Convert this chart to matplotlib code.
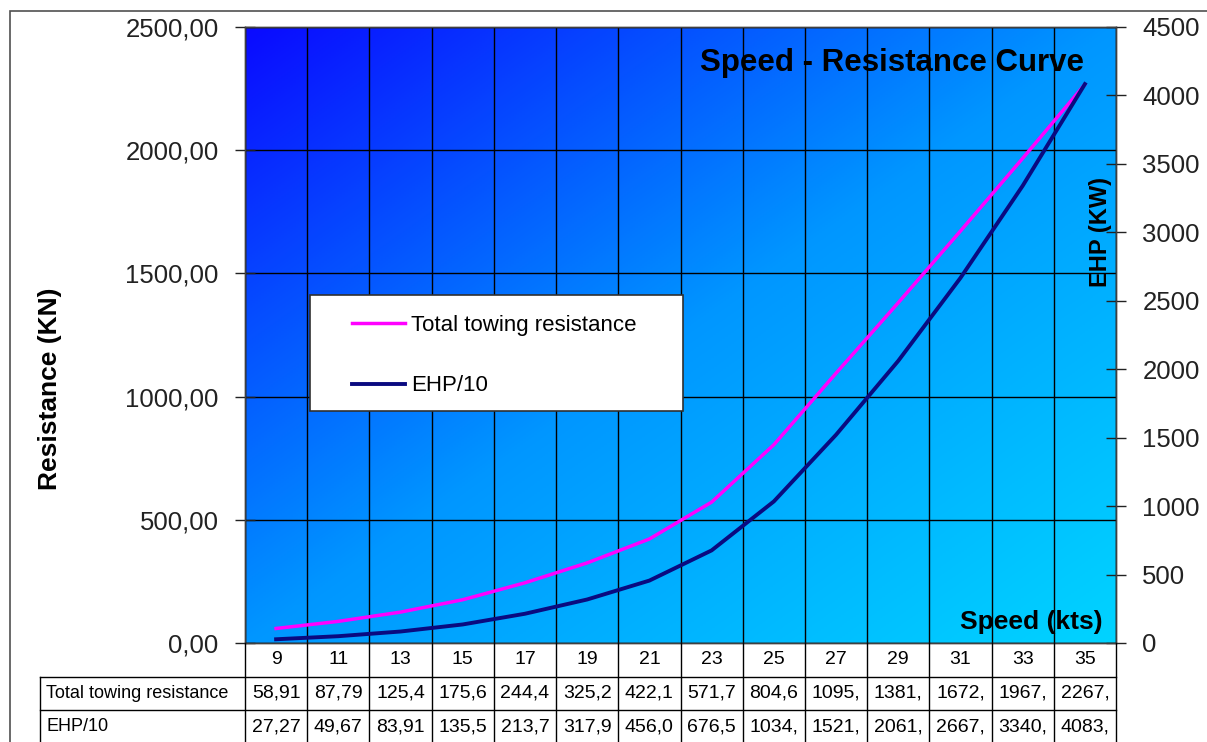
import numpy as np
import matplotlib
matplotlib.use("Agg")
import matplotlib.pyplot as plt
from matplotlib.lines import Line2D
from matplotlib.patches import Rectangle
from matplotlib.colors import LinearSegmentedColormap
from matplotlib.transforms import blended_transform_factory

plt.rcParams['font.family'] = ['Liberation Sans', 'DejaVu Sans']

# ---- data ----
speeds = [9, 11, 13, 15, 17, 19, 21, 23, 25, 27, 29, 31, 33, 35]
total_resistance = [58.91, 87.79, 125.4, 175.6, 244.4, 325.2, 422.1,
                    571.7, 804.6, 1095, 1381, 1672, 1967, 2267]
ehp_div10 = [27.27, 49.67, 83.91, 135.5, 213.7, 317.9, 456.0,
             676.5, 1034, 1521, 2061, 2667, 3340, 4083]
left_ticks = [0, 500, 1000, 1500, 2000, 2500]
right_ticks = [0, 500, 1000, 1500, 2000, 2500, 3000, 3500, 4000, 4500]
series_names = ["Total towing resistance", "EHP/10"]

W, H = 1207, 742
fig = plt.figure(figsize=(W / 100, H / 100), dpi=100)


def fx(px):
    return px / W


def fy(py):
    return 1 - py / H


ax_l, ax_r, ax_t, ax_b = 245, 1116, 27, 643
ax = fig.add_axes([fx(ax_l), fy(ax_b), fx(ax_r - ax_l), (ax_b - ax_t) / H])
ax2 = ax.twinx()

n = len(speeds)
xs = np.arange(n)
ax.set_xlim(-0.5, n - 0.5)
ax.set_ylim(0, 2500)
ax2.set_ylim(0, 4500)

# diagonal blue -> cyan background
cmap = LinearSegmentedColormap.from_list(
    "bg", [(0.0, (0.04, 0.04, 1.0)), (0.5, (0.0, 0.59, 1.0)), (1.0, (0.0, 0.83, 1.0))])
gx, gy = np.meshgrid(np.linspace(0, 1, 300), np.linspace(0, 1, 300))
ax.imshow((gx + gy) / 2, cmap=cmap, extent=(0, 1, 0, 1), transform=ax.transAxes,
          aspect="auto", origin="upper", zorder=0, interpolation="bilinear")

# grid
ax.set_xticks(np.arange(-0.5, n, 1))
ax.set_xticklabels([])
ax.tick_params(axis="x", length=0)
ax.set_yticks(left_ticks)
ax.set_yticklabels([f"{v:.2f}".replace(".", ",") for v in left_ticks], fontsize=18.5)
ax.grid(True, color="black", linewidth=1.0, zorder=1)
ax.set_axisbelow(False)
ax.tick_params(axis="y", direction="inout", length=14, width=1, pad=12, colors="#222222")
ax2.set_yticks(right_ticks)
ax2.set_yticklabels([str(v) for v in right_ticks], fontsize=18.5)
ax2.tick_params(axis="y", direction="inout", length=14, width=1, pad=12, colors="#222222")
for a in (ax, ax2):
    for s in a.spines.values():
        s.set_color("#404040")
        s.set_linewidth(1.0)

l1, = ax.plot(xs, total_resistance, color="#FF00FF", linewidth=2.5, zorder=3)
l2, = ax2.plot(xs, ehp_div10, color="#0A0A80", linewidth=2.8, zorder=3)

# titles and axis names
ax2.text(fx(892), fy(63), "Speed - Resistance Curve", transform=fig.transFigure,
         ha="center", va="center", fontsize=22.5, fontweight="bold", zorder=6)
ax2.text(fx(1031), fy(622), "Speed (kts)", transform=fig.transFigure,
         ha="center", va="center", fontsize=19, fontweight="bold", zorder=6)
ax2.text(fx(1100), fy(232), "EHP (KW)", transform=fig.transFigure, rotation=90,
         ha="center", va="center", fontsize=17, fontweight="bold", zorder=6)
fig.text(fx(50), fy(389), "Resistance (KN)", rotation=90,
         ha="center", va="center", fontsize=19, fontweight="bold")

# legend box
ax2.add_patch(Rectangle((fx(310), fy(411)), fx(683 - 310), (411 - 295) / H,
                        transform=fig.transFigure, facecolor="white",
                        edgecolor="#303030", linewidth=1.2, zorder=7, clip_on=False))
leg = ax2.legend([l1, l2], series_names, loc="upper left",
                 bbox_to_anchor=(fx(352), fy(315)), bbox_transform=fig.transFigure,
                 frameon=False, fontsize=16, handlelength=2.4, handletextpad=0.27,
                 labelspacing=1.77, borderpad=0, borderaxespad=0)
leg.set_zorder(8)

# data table under the plot
tx = blended_transform_factory(ax.transData, fig.transFigure)
row_y = [643, 677, 710, 760]
line_kw = dict(color="black", linewidth=1.0)
for b in np.arange(-0.5, n, 1):
    fig.add_artist(Line2D([b, b], [fy(643), fy(760)], transform=tx, **line_kw))
for yy in row_y[1:3]:
    fig.add_artist(Line2D([fx(40), fx(ax_r)], [fy(yy), fy(yy)], **line_kw))
fig.add_artist(Line2D([fx(40), fx(40)], [fy(677), fy(760)], **line_kw))


def cell_text(v):
    return f"{v:.2f}".replace(".", ",")[:5]


tfs = 14
for i, sp in enumerate(speeds):
    fig.text(i, fy((643 + 677) / 2), str(sp), transform=tx, ha="center", va="center", fontsize=tfs)
    fig.text(i, fy((677 + 710) / 2), cell_text(total_resistance[i]), transform=tx,
             ha="center", va="center", fontsize=tfs)
    fig.text(i, fy((710 + 743) / 2), cell_text(ehp_div10[i]), transform=tx,
             ha="center", va="center", fontsize=tfs)
fig.text(fx(46), fy((677 + 710) / 2), series_names[0], ha="left", va="center", fontsize=13)
fig.text(fx(46), fy((710 + 743) / 2), series_names[1], ha="left", va="center", fontsize=13)

# outer chart frame
fig.add_artist(Rectangle((fx(10), -0.2), 1.2, fy(11) + 0.2, transform=fig.transFigure,
                         fill=False, edgecolor="#505050", linewidth=1.2))

fig.savefig("out.png", dpi=100)
